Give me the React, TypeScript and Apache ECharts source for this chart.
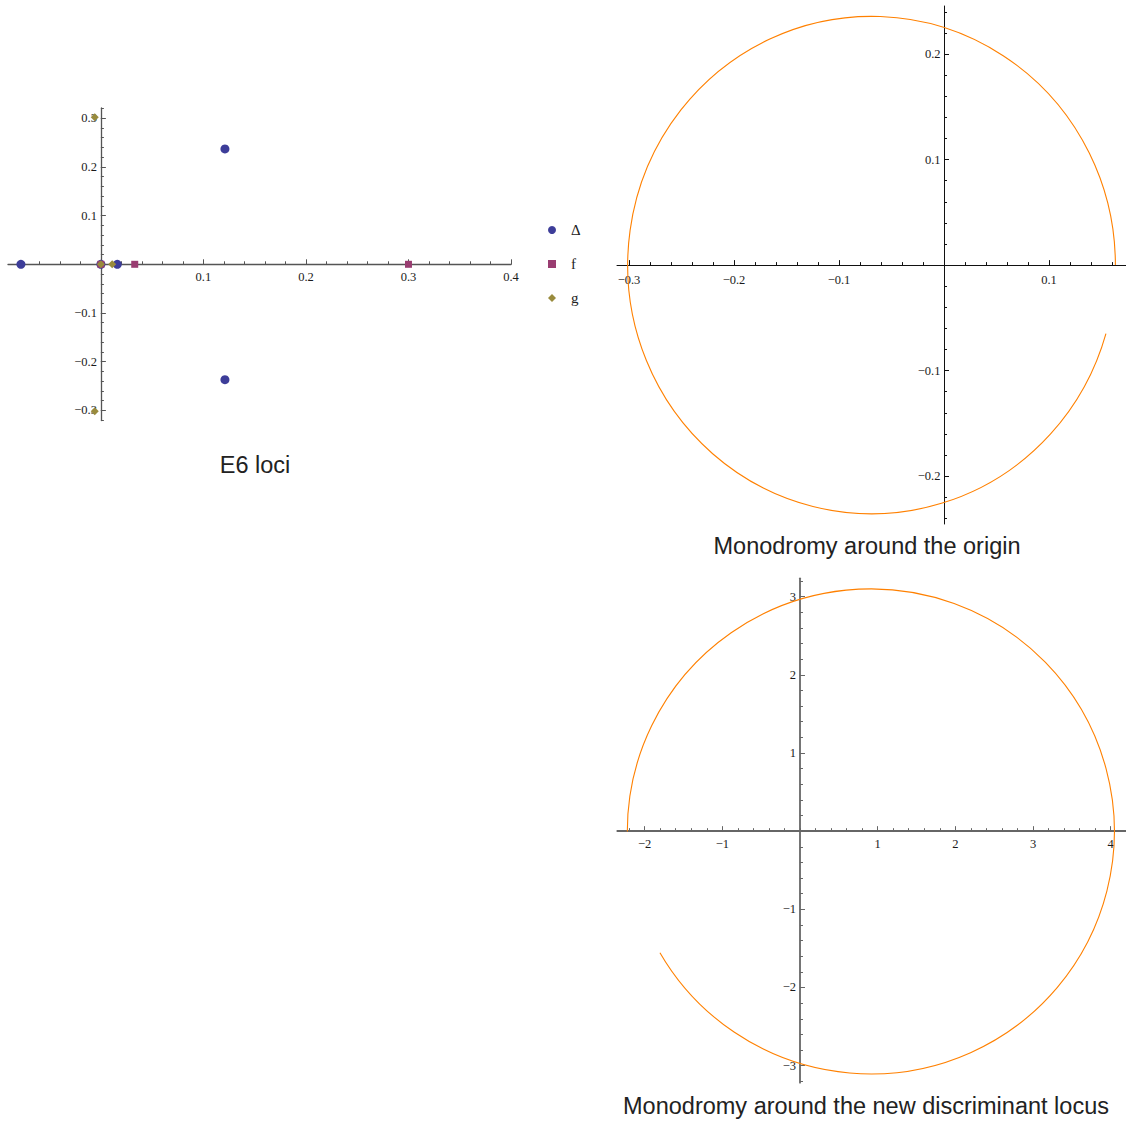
import React, { useEffect, useRef } from 'react';
import * as echarts from 'echarts';

// ---- E6 loci (top-left) ----
const lociSeriesNames = ['Δ', 'f', 'g'];
const deltaPoints = [[-0.078, 0], [0, 0], [0.016, 0], [0.121, 0.237], [0.121, -0.237]];
const fPoints = [[0, 0], [0.033, 0], [0.3, 0]];
const gPoints = [[-0.006, 0.302], [-0.006, -0.302], [0, 0], [0.011, 0]];

const lociXTicks = [0.1, 0.2, 0.3, 0.4];
const lociYTicks = [-0.3, -0.2, -0.1, 0.1, 0.2, 0.3];
const originXTicks = [-0.3, -0.2, -0.1, 0.1];
const originYTicks = [-0.2, -0.1, 0.1, 0.2];
const discXTicks = [-2, -1, 1, 2, 3, 4];
const discYTicks = [-3, -2, -1, 1, 2, 3];

// monodromy paths: [centerX, centerY, radiusX, radiusY, startAngleDeg, endAngleDeg]
const originPath = [[-0.069, 0, 0.2322, 0.2358, 0, 344]];
const discPath = [[0.912, 0, 3.135, 3.102, -150, 180]];

const titles = ['E6 loci', 'Monodromy around the origin', 'Monodromy around the new discriminant locus'];

const SERIF = 'Liberation Serif, Times New Roman, serif';
const SANS = 'Liberation Sans, Arial, sans-serif';

function minorTicks(min: number, max: number, step: number) {
  const out: number[] = [];
  const start = Math.ceil(min / step - 1e-9);
  const end = Math.floor(max / step + 1e-9);
  for (let i = start; i <= end; i++) out.push(Math.round(i * step * 1e6) / 1e6);
  return out;
}

const fmt = (v: number) => String(v).replace('-', '\u2212');

type Box = { left: number; top: number; width: number; height: number };
type Range = [number, number];

// Axes drawn through the origin: placed at the grid edge and shifted by an offset to the zero line
function makeAxes(
  dim: 'x' | 'y',
  gridIndex: number,
  box: Box,
  range: Range,
  otherRange: Range,
  majors: number[],
  minorStep: number,
  color: string,
  width: number,
  labelMargin: number
) {
  const position = dim === 'x' ? 'bottom' : 'left';
  const [omin, omax] = otherRange;
  const frac = (0 - omin) / (omax - omin);
  const offset = dim === 'x' ? -box.height * frac : -box.width * frac;
  const major = {
    type: 'value',
    gridIndex,
    min: range[0],
    max: range[1],
    position,
    offset,
    axisLine: { show: true, onZero: false, lineStyle: { color, width } },
    axisTick: { show: true, inside: true, length: 5, customValues: majors, lineStyle: { color, width: 1 } },
    axisLabel: {
      show: true,
      customValues: majors,
      formatter: fmt,
      margin: labelMargin,
      color: '#1a1a1a',
      fontFamily: SERIF,
      fontSize: 12.5,
    },
    splitLine: { show: false },
  };
  const minor = {
    type: 'value',
    gridIndex,
    min: range[0],
    max: range[1],
    position,
    offset,
    axisLine: { show: false, onZero: false },
    axisTick: {
      show: true,
      inside: true,
      length: 3,
      customValues: minorTicks(range[0], range[1], minorStep),
      lineStyle: { color, width: 1 },
    },
    axisLabel: { show: false },
    splitLine: { show: false },
  };
  return [major, minor];
}

function arcRenderItem(params: any, api: any) {
  const c = api.coord([api.value(0), api.value(1)]);
  const rx = api.size([api.value(2), 0])[0];
  const ry = api.size([0, api.value(3)])[1];
  const startDeg = api.value(4);
  const endDeg = api.value(5);
  return {
    type: 'arc',
    shape: {
      cx: c[0],
      cy: c[1],
      r: rx,
      startAngle: (-endDeg * Math.PI) / 180,
      endAngle: (-startDeg * Math.PI) / 180,
      clockwise: true,
    },
    originX: c[0],
    originY: c[1],
    scaleY: ry / rx,
    style: { stroke: '#ff8000', lineWidth: 1.1, fill: 'none' },
  };
}

export default function App() {
  const ref = useRef<HTMLDivElement>(null);
  useEffect(() => {
    if (!ref.current) return;
    const chart = echarts.init(ref.current, undefined, { renderer: 'svg' });

    const gTL: Box = { left: 8, width: 503, top: 108, height: 312.6 };
    const gTR: Box = { left: 617, width: 509, top: 6, height: 518 };
    const gBR: Box = { left: 617.3, width: 508.7, top: 578.3, height: 504.4 };
    const tlX: Range = [-0.0906, 0.4];
    const tlY: Range = [-0.321, 0.321];
    const trX: Range = [-0.3114, 0.1733];
    const trY: Range = [-0.2454, 0.2456];
    const brX: Range = [-2.352, 4.197];
    const brY: Range = [-3.218, 3.235];

    const [x0, x1] = makeAxes('x', 0, gTL, tlX, tlY, lociXTicks, 0.02, '#555', 1.3, 6);
    const [y0, y1] = makeAxes('y', 0, gTL, tlY, tlX, lociYTicks, 0.02, '#555', 1.3, 4);
    const [x2, x3] = makeAxes('x', 1, gTR, trX, trY, originXTicks, 0.02, '#111', 1, 8);
    const [y2, y3] = makeAxes('y', 1, gTR, trY, trX, originYTicks, 0.02, '#111', 1, 3.5);
    const [x4, x5] = makeAxes('x', 2, gBR, brX, brY, discXTicks, 0.2, '#666', 1.8, 6);
    const [y4, y5] = makeAxes('y', 2, gBR, brY, brX, discYTicks, 0.2, '#666', 1.8, 4);

    const gridOpt = (b: Box) => ({ ...b, containLabel: false, outerBoundsMode: 'none' });

    const option: any = {
      animation: false,
      backgroundColor: '#fff',
      grid: [gridOpt(gTL), gridOpt(gTR), gridOpt(gBR)],
      xAxis: [x0, x1, x2, x3, x4, x5],
      yAxis: [y0, y1, y2, y3, y4, y5],
      legend: {
        data: lociSeriesNames,
        orient: 'vertical',
        left: 543,
        top: 217,
        itemWidth: 8,
        itemHeight: 8,
        itemGap: 18,
        textStyle: { fontFamily: SERIF, fontSize: 15, color: '#222', padding: [0, 0, 0, 10], lineHeight: 16 },
      },
      series: [
        {
          type: 'scatter',
          name: lociSeriesNames[0],
          xAxisIndex: 0,
          yAxisIndex: 0,
          data: deltaPoints,
          symbol: 'circle',
          symbolSize: 9,
          itemStyle: { color: '#3d3d99', opacity: 1 },
        },
        {
          type: 'scatter',
          name: lociSeriesNames[1],
          xAxisIndex: 0,
          yAxisIndex: 0,
          data: fPoints,
          symbol: 'rect',
          symbolSize: 7,
          itemStyle: { color: '#993d71', opacity: 1 },
        },
        {
          type: 'scatter',
          name: lociSeriesNames[2],
          xAxisIndex: 0,
          yAxisIndex: 0,
          data: gPoints,
          symbol: 'diamond',
          symbolSize: 8,
          itemStyle: { color: '#998b3d', opacity: 1 },
        },
        {
          type: 'custom',
          name: 'origin monodromy',
          xAxisIndex: 2,
          yAxisIndex: 2,
          data: originPath,
          dimensions: ['cx', 'cy', 'rx', 'ry', 'a0', 'a1'],
          encode: { x: 0, y: 1 },
          renderItem: arcRenderItem,
        },
        {
          type: 'custom',
          name: 'discriminant monodromy',
          xAxisIndex: 4,
          yAxisIndex: 4,
          data: discPath,
          dimensions: ['cx', 'cy', 'rx', 'ry', 'a0', 'a1'],
          encode: { x: 0, y: 1 },
          renderItem: arcRenderItem,
        },
      ],
      graphic: [
        {
          type: 'text',
          x: 255,
          y: 465,
          style: { text: titles[0], font: `23.5px ${SANS}`, fill: '#222', align: 'center', verticalAlign: 'middle', textAlign: 'center', textVerticalAlign: 'middle' },
        },
        {
          type: 'text',
          x: 867,
          y: 546,
          style: { text: titles[1], font: `23.5px ${SANS}`, fill: '#222', align: 'center', verticalAlign: 'middle', textAlign: 'center', textVerticalAlign: 'middle' },
        },
        {
          type: 'text',
          x: 866,
          y: 1106,
          style: { text: titles[2], font: `23.5px ${SANS}`, fill: '#222', align: 'center', verticalAlign: 'middle', textAlign: 'center', textVerticalAlign: 'middle' },
        },
      ],
    };
    chart.setOption(option);
    return () => chart.dispose();
  }, []);
  return <div ref={ref} style={{ position: 'absolute', left: 0, top: 0, width: 1126, height: 1121 }} />;
}
